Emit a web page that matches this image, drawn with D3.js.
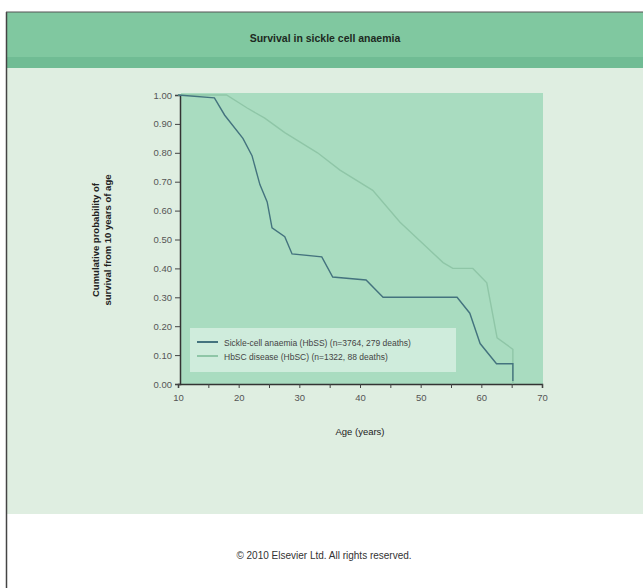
<!DOCTYPE html>
<html>
<head>
<meta charset="utf-8">
<script src="https://cdn.jsdelivr.net/npm/d3@7"></script>
<style>
  body { margin: 0; background: #fff; }
  svg { display: block; font-family: "Liberation Sans", Arial, sans-serif; }
</style>
</head>
<body>
<svg id="chart" width="643" height="588"></svg>
<script>
// survival curves (age in years, cumulative probability)
const ssAge  = [10, 16, 17.7, 20.7, 22.2, 23.5, 24.7, 25.5, 27.6, 28.8, 33.7, 35.5, 41, 43.8, 56, 58.1, 59.8, 62.5, 65.2, 65.2];
const ssSurv = [1.0, 0.99, 0.93, 0.85, 0.79, 0.69, 0.63, 0.54, 0.51, 0.45, 0.44, 0.37, 0.36, 0.30, 0.30, 0.245, 0.14, 0.07, 0.07, 0.01];
const scAge  = [10, 18, 21.4, 24.3, 27.6, 33, 36.7, 42.1, 46.6, 53.7, 55.3, 58.6, 60.9, 62.6, 65.2, 65.2];
const scSurv = [1.0, 1.0, 0.955, 0.92, 0.87, 0.80, 0.74, 0.67, 0.56, 0.42, 0.40, 0.40, 0.35, 0.16, 0.12, 0.0];

const xTicks = [10, 20, 30, 40, 50, 60, 70];
const yTicks = [0, 0.1, 0.2, 0.3, 0.4, 0.5, 0.6, 0.7, 0.8, 0.9, 1.0];
const legendLabels = [
  "Sickle-cell anaemia (HbSS) (n=3764, 279 deaths)",
  "HbSC disease (HbSC) (n=1322, 88 deaths)"
];
const seriesColors = ["#44737e", "#8fc6a7"];

const svg = d3.select("#chart");

// frame, header and panel
svg.append("rect").attr("x", 7).attr("y", 12).attr("width", 636).attr("height", 576).attr("fill", "#fff");
svg.append("rect").attr("x", 7).attr("y", 12).attr("width", 636).attr("height", 46).attr("fill", "#80c8a0");
svg.append("rect").attr("x", 7).attr("y", 57).attr("width", 636).attr("height", 11).attr("fill", "#70bc94");
svg.append("rect").attr("x", 7).attr("y", 68).attr("width", 636).attr("height", 446).attr("fill", "#dfeee1");
svg.append("line").attr("x1", 6.5).attr("x2", 6.5).attr("y1", 12).attr("y2", 588)
  .attr("stroke", "#444").attr("stroke-width", 1.5);
svg.append("line").attr("x1", 6).attr("x2", 643).attr("y1", 12).attr("y2", 12)
  .attr("stroke", "#555").attr("stroke-width", 1);

svg.append("text").attr("x", 325).attr("y", 42).attr("text-anchor", "middle")
  .attr("font-size", 10.5).attr("font-weight", "bold").attr("fill", "#1d2a22")
  .text("Survival in sickle cell anaemia");

svg.append("text").attr("x", 324).attr("y", 559).attr("text-anchor", "middle")
  .attr("font-size", 10).attr("fill", "#333")
  .text("© 2010 Elsevier Ltd. All rights reserved.");

// plot
const x = d3.scaleLinear().domain([10, 70]).range([178, 542]);
const y = d3.scaleLinear().domain([0, 1]).range([384, 95]);

svg.append("rect").attr("x", 181).attr("y", 93).attr("width", 362).attr("height", 292)
  .attr("fill", "#a9dcc0");

const xAxis = d3.axisBottom(x).tickValues(d3.range(10, 71, 5)).tickSize(4)
  .tickFormat(d => xTicks.includes(d) ? d : "");
const yAxis = d3.axisLeft(y).tickValues(yTicks).tickSize(5).tickFormat(d3.format(".2f"));

const gx = svg.append("g").attr("transform", "translate(0,384)").call(xAxis);
const gy = svg.append("g").attr("transform", "translate(180,0)").call(yAxis);
[gx, gy].forEach(g => {
  g.select(".domain").attr("stroke", "#333").attr("stroke-width", 1.5);
  g.selectAll(".tick line").attr("stroke", "#444");
  g.selectAll(".tick text").attr("fill", "#555").attr("font-size", 9.5)
    .attr("font-family", "Liberation Sans, Arial, sans-serif");
});
gx.selectAll(".tick text").attr("dy", "1.1em");

svg.append("text").attr("x", 360).attr("y", 435).attr("text-anchor", "middle")
  .attr("font-size", 9.5).attr("fill", "#222").text("Age (years)");

const yTitle = svg.append("text").attr("transform", "translate(101,240) rotate(-90)")
  .attr("text-anchor", "middle").attr("font-size", 9.5).attr("font-weight", "bold").attr("fill", "#222");
yTitle.append("tspan").attr("x", 0).attr("dy", "-0.2em").text("Cumulative probability of");
yTitle.append("tspan").attr("x", 0).attr("dy", "1.2em").text("survival from 10 years of age");

// curves
const line = d3.line().x(d => x(d[0])).y(d => y(d[1]));
const series = [d3.zip(ssAge, ssSurv), d3.zip(scAge, scSurv)];
svg.append("path").datum(series[1]).attr("fill", "none")
  .attr("stroke", seriesColors[1]).attr("stroke-width", 1.4).attr("d", line);
svg.append("path").datum(series[0]).attr("fill", "none")
  .attr("stroke", seriesColors[0]).attr("stroke-width", 1.4).attr("d", line);

// legend
const lg = svg.append("g");
lg.append("rect").attr("x", 190).attr("y", 328).attr("width", 266).attr("height", 44)
  .attr("fill", "#d6efe0").attr("opacity", 0.85);
legendLabels.forEach((lab, i) => {
  const ly = 342 + i * 14;
  lg.append("line").attr("x1", 197).attr("x2", 218).attr("y1", ly).attr("y2", ly)
    .attr("stroke", seriesColors[i]).attr("stroke-width", 2);
  lg.append("text").attr("x", 224).attr("y", ly + 3.5).attr("font-size", 8.5)
    .attr("fill", "#444").text(lab);
});
</script>
</body>
</html>
